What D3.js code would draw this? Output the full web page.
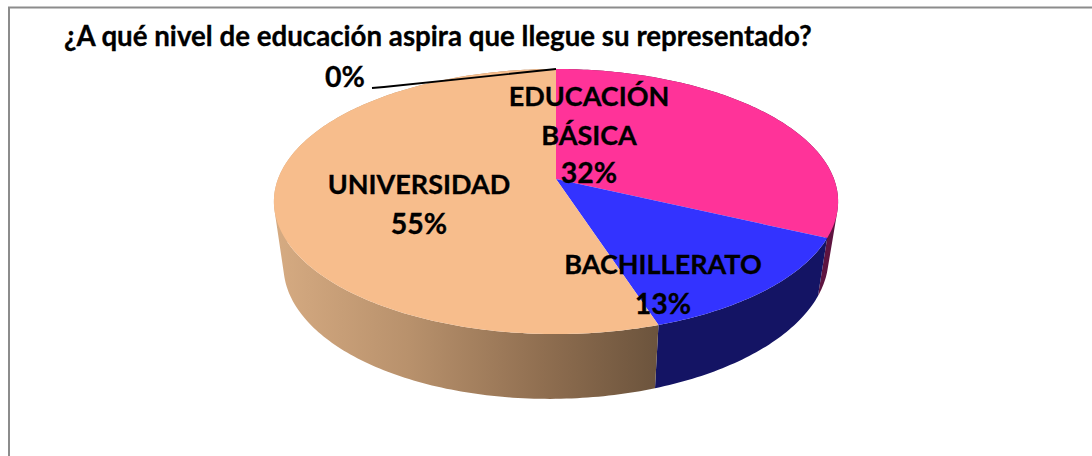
<!DOCTYPE html>
<html><head><meta charset="utf-8">
<script src="https://cdn.jsdelivr.net/npm/d3@7"></script>
<style>html,body{margin:0;padding:0;background:#fff;overflow:hidden}svg{display:block}
text{font-family:Lato,"Liberation Sans",sans-serif;font-weight:700;fill:#000;stroke:#000;stroke-width:.3px}</style>
</head><body><svg id="c" width="1092" height="456"></svg>
<script>
const title = "¿A qué nivel de educación aspira que llegue su representado?";
const categories = ["EDUCACIÓN BÁSICA", "BACHILLERATO", "UNIVERSIDAD", "OTRO"];
const values = [32, 13, 55, 0];
const percentLabels = ["32%", "13%", "55%", "0%"];
const topColors = ["#ff3399", "#3333ff", "#f7bd8c", "#9bbb59"];
const sideColors = ["#5e1440", "#141464", "url(#sideOrange)", "#4f5f2d"];

const svg = d3.select("#c");
const cx = 556, apexY = 179, R = 278, A = 128.7, K = -0.17;
const bx = 0.966, botY = 238.6, botA = 133, shear = 4;

function top3(a){ const u = Math.sin(a), v = -Math.cos(a), w = 1 + K * v;
  return [cx + R * u / w, apexY + A * v / w]; }
function bottom3(a){ const u = Math.sin(a), v = -Math.cos(a), w = 1 + K * v;
  return [cx + bx * R * u / w, botY + botA * v / w - shear * u]; }
function samples(s){ const n = Math.max(2, Math.ceil((s.endAngle - s.startAngle) * 60));
  return d3.range(n + 1).map(i => s.startAngle + (s.endAngle - s.startAngle) * i / n); }

const arcs = d3.pie().sort(null).value(d => d)(values);
const line = d3.line();

const defs = svg.append("defs");
const g = defs.append("linearGradient").attr("id", "sideOrange").attr("gradientUnits", "userSpaceOnUse")
  .attr("x1", 274).attr("x2", 660).attr("y1", 0).attr("y2", 0);
[[0, "#d6ab82"], [0.35, "#b8916c"], [0.7, "#8f6e50"], [1, "#6b533c"]].forEach(s =>
  g.append("stop").attr("offset", s[0]).attr("stop-color", s[1]));

// frame
svg.append("path").attr("d", "M1092 7.5H9V456").attr("fill", "none").attr("stroke", "#8c8c8c").attr("stroke-width", 2);

// title
svg.append("text").attr("x", 64).attr("y", 45.5).attr("font-size", 27.7).text(title);

// sides: one path of equally wound quads, so the hull of both rings fills without seams
function quad(p){
  const q = [top3(p[0]), top3(p[1]), bottom3(p[1]), bottom3(p[0])];
  return line(d3.polygonArea(q) < 0 ? q.reverse() : q) + "Z";
}
svg.append("g").selectAll("path").data(arcs).join("path")
  .attr("fill", (d, i) => sideColors[i])
  .attr("d", d => d3.pairs(samples(d)).map(quad).join(""));
svg.append("g").selectAll("path").data(arcs).join("path")
  .attr("fill", (d, i) => topColors[i])
  .attr("d", d => line([[cx, apexY]].concat(samples(d).map(top3))) + "Z");

// leader line for the 0% slice
const z = top3(arcs[3].startAngle);
svg.append("path").attr("fill", "none").attr("stroke", "#000").attr("stroke-width", 1.8)
  .attr("d", line([[372, 88], [384, 87], z]));

// labels
const labelLayout = [
  {x: 589, lines: ["EDUCACIÓN", "BÁSICA", percentLabels[0]], ys: [106, 145, 183]},
  {x: 663, lines: [categories[1], percentLabels[1]], ys: [274, 314]},
  {x: 419, lines: [categories[2], percentLabels[2]], ys: [194, 234]},
  {x: 345, lines: [percentLabels[3]], ys: [87]}
];
labelLayout.forEach(l => l.lines.forEach((t, i) =>
  svg.append("text").attr("x", l.x).attr("y", l.ys[i]).attr("text-anchor", "middle")
     .attr("font-size", t.endsWith("%") ? 28.5 : 27).text(t)));
</script></body></html>
